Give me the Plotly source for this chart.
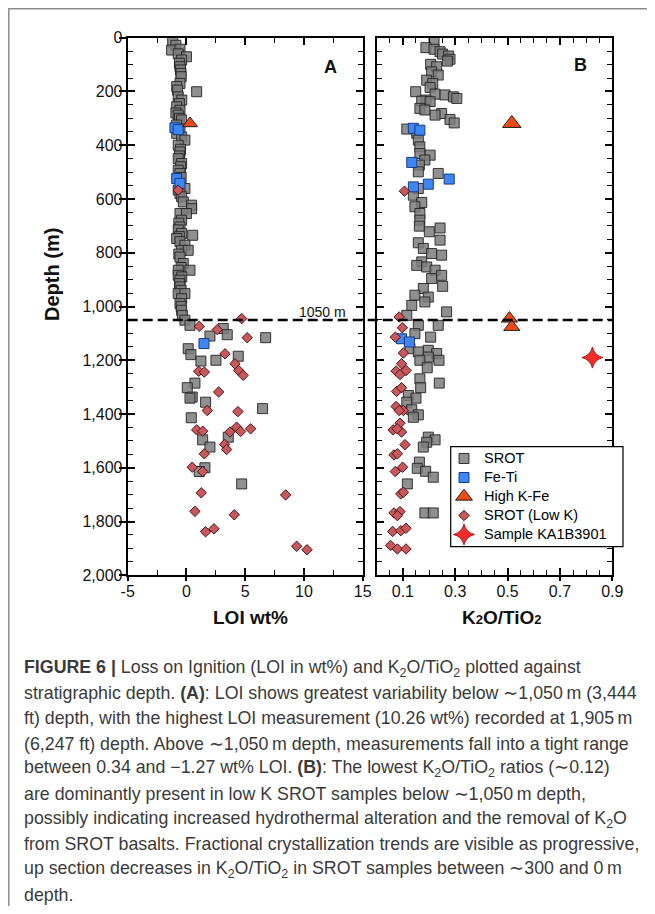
import plotly.graph_objects as go

# ---- Panel A: LOI wt% vs depth ----
a_srot_depth = [15, 28, 46, 43, 60, 71, 83, 95, 108, 120, 133, 145, 170, 182, 195, 201, 220, 232, 245,
                257, 270, 280, 288, 300, 306, 325, 340, 356, 369, 381, 400, 415, 425, 440, 450, 468,
                480, 493, 505, 520, 561, 567, 580, 592, 611, 623, 636, 654, 654, 679, 690, 704, 715,
                728, 735, 740, 747, 759, 772, 791, 791, 805, 816, 840, 855, 865, 865, 884, 890, 902,
                915, 927, 940, 952, 952, 971, 989, 1000, 1014, 1033,
                1051, 1070, 1082, 1105, 1110, 1116, 1157, 1179, 1185, 1203, 1200, 1285, 1302, 1337,
                1341, 1356, 1380, 1414, 1496, 1486, 1523, 1600, 1614, 1660]
a_srot_loi = [-1.17, -0.9, -1.26, -0.55, -0.7, 0.0, -0.41, -0.6, -0.55, -0.5, -0.47, -0.45, -0.55, -0.83,
              -0.75, 0.87, -0.7, -0.4, -0.6, -0.83, -0.55, -0.9, -0.7, -0.6, -0.41, -0.83, -0.55, -0.83,
              -0.41, -0.13, -0.7, -0.5, -0.55, -0.6, -0.7, -0.41, -0.5, -0.7, -0.55, -0.45, -0.13, -0.7,
              -0.55, -0.41, -0.27, 0.44, 0.44, -0.55, 0.0, -0.41, -0.65, -0.55, -0.7, -0.41, 0.53, -0.6,
              -0.83, -0.55, -0.13, -0.41, 0.15, -0.65, -0.55, -0.27, -0.45, -0.7, 0.3, -0.7, -0.4, -0.55,
              -0.6, -0.55, -0.45, -0.7, -0.13, -0.41, -0.55, -0.45, -0.41, -0.35,
              -0.13, 0.3, 3.13, 3.47, 2.0, 6.74, 0.15, 0.38, 4.41, 1.23, 2.51, 0.72, 0.07, 0.49,
              0.3, 1.63, 6.48, 0.41, 1.38, 3.56, 2.0, 1.57, 1.09, 4.7]
a_feti_depth = [335, 342, 524, 542, 1138]
a_feti_loi = [-0.98, -0.7, -0.83, -0.55, 1.49]
a_hkfe_depth = [319]
a_hkfe_loi = [0.3]
a_lowk_depth = [567, 1045, 1074, 1086, 1116, 1176, 1213, 1241, 1244, 1238, 1256, 1318, 1387, 1391,
                1459, 1464, 1455, 1449, 1465, 1467, 1513, 1532, 1548, 1598, 1614, 1693, 1701, 1762,
                1775, 1838, 1827, 1892, 1905]
a_lowk_loi = [-0.7, 4.7, 1.09, 2.62, 5.17, 3.28, 4.13, 1.04, 1.52, 4.44, 4.83, 2.74, 1.77, 4.38,
              0.87, 1.38, 5.46, 4.27, 4.61, 3.7, 3.25, 3.42, 1.52, 0.49, 1.38, 1.26, 8.44, 0.72,
              4.07, 1.63, 2.34, 9.38, 10.26]

# ---- Panel B: K2O/TiO2 vs depth ----
b_srot_depth = [15, 37, 43, 52, 61, 68, 80, 87, 99, 108, 127, 139, 158, 170, 185, 201, 210, 213, 220,
                226, 232, 236, 238, 263, 269, 282, 288, 304, 317, 340, 356, 381, 406, 431, 437, 455,
                474, 499, 505, 561, 586, 613, 629, 654, 679, 701, 708, 722, 753, 763, 784, 803, 809,
                834, 847, 853, 865, 884, 896, 925, 933, 958, 965, 983, 996, 1020, 1033,
                1070, 1070, 1101, 1114, 1157, 1163, 1169, 1175, 1188, 1200, 1200, 1228, 1269, 1285,
                1302, 1331, 1341, 1356, 1384, 1403, 1412, 1486, 1496, 1505, 1523, 1579, 1602, 1613,
                1635, 1660, 1768, 1768]
b_srot_k = [0.219, 0.188, 0.219, 0.242, 0.252, 0.274, 0.28, 0.27, 0.206, 0.229, 0.21, 0.235, 0.191,
            0.214, 0.204, 0.149, 0.223, 0.261, 0.293, 0.306, 0.188, 0.172, 0.204, 0.165, 0.184, 0.248,
            0.223, 0.28, 0.296, 0.115, 0.153, 0.159, 0.165, 0.165, 0.204, 0.184, 0.163, 0.159, 0.235,
            0.159, 0.14, 0.172, 0.146, 0.165, 0.165, 0.163, 0.242, 0.201, 0.242, 0.159, 0.178, 0.21,
            0.248, 0.172, 0.153, 0.191, 0.223, 0.248, 0.21, 0.252, 0.178, 0.146, 0.197, 0.184, 0.134,
            0.267, 0.115,
            0.159, 0.235, 0.146, 0.206, 0.127, 0.197, 0.159, 0.229, 0.197, 0.165, 0.238, 0.193, 0.165,
            0.239, 0.168, 0.121, 0.15, 0.115, 0.134, 0.159, 0.14, 0.197, 0.223, 0.191, 0.178, 0.163,
            0.155, 0.187, 0.216, 0.117, 0.184, 0.216]
b_feti_depth = [337, 344, 464, 526, 545, 555, 1120, 1132]
b_feti_k = [0.14, 0.165, 0.134, 0.277, 0.197, 0.14, 0.095, 0.125]
b_hkfe_depth = [319, 1045, 1076]
b_hkfe_k = [0.516, 0.507, 0.516]
b_lowk_depth = [571, 1039, 1079, 1114, 1173, 1213, 1240, 1253, 1238, 1316, 1302, 1372, 1387, 1387,
                1459, 1434, 1467, 1455, 1514, 1552, 1548, 1598, 1614, 1697, 1691, 1768, 1763, 1778,
                1837, 1834, 1825, 1889, 1902, 1902]
b_lowk_k = [0.106, 0.086, 0.098, 0.071, 0.102, 0.095, 0.074, 0.089, 0.112, 0.076, 0.095, 0.074,
            0.102, 0.086, 0.063, 0.089, 0.095, 0.078, 0.108, 0.066, 0.079, 0.099, 0.071, 0.092,
            0.102, 0.066, 0.089, 0.079, 0.061, 0.092, 0.112, 0.053, 0.079, 0.112]
b_star_depth = [1190]
b_star_k = [0.824]

a_ticks = [-5, 0, 5, 10, 15]
a_ticktext = ["-5", "0", "5", "10", "15"]
b_ticks = [0.1, 0.3, 0.5, 0.7, 0.9]
b_ticktext = ["0.1", "0.3", "0.5", "0.7", "0.9"]
boundary_depth = 1050

caption_lines = [
    "<b>FIGURE 6 |</b> Loss on Ignition (LOI in wt%) and K<sub>2</sub>O/TiO<sub>2</sub> plotted against",
    "stratigraphic depth. <b>(A)</b>: LOI shows greatest variability below \u223c1,050\u2009m (3,444",
    "ft) depth, with the highest LOI measurement (10.26 wt%) recorded at 1,905\u2009m",
    "(6,247 ft) depth. Above \u223c1,050\u2009m depth, measurements fall into a tight range",
    "between 0.34 and \u22121.27 wt% LOI. <b>(B)</b>: The lowest K<sub>2</sub>O/TiO<sub>2</sub> ratios (\u223c0.12)",
    "are dominantly present in low K SROT samples below \u223c1,050\u2009m depth,",
    "possibly indicating increased hydrothermal alteration and the removal of K<sub>2</sub>O",
    "from SROT basalts. Fractional crystallization trends are visible as progressive,",
    "up section decreases in K<sub>2</sub>O/TiO<sub>2</sub> in SROT samples between \u223c300 and 0\u2009m",
    "depth.",
]

# the page body keeps its default 8px margin, so the figure sits 8px in from the window corner
OFF = 8
W, H = 655 - OFF, 914 - 2 * OFF
FONT = "Liberation Sans, Arial, sans-serif"


def px(x):
    # window pixel -> paper fraction
    return (x - OFF) / W


def py(y):
    return 1 - (y - OFF) / H


srot_style = dict(symbol="square", size=10, color="rgba(125,125,125,0.85)", opacity=1,
                  line=dict(color="rgba(35,35,35,0.9)", width=1))
feti_style = dict(symbol="square", size=10, color="#3f86f5", opacity=1, line=dict(color="#1a3a80", width=1))
hkfe_style = dict(symbol="triangle-up", size=15, color="#f24a14", opacity=1, line=dict(color="#222", width=1))
lowk_style = dict(symbol="diamond", size=8, color="#c9585c", opacity=1, line=dict(color="#4a1518", width=1))
star_style = dict(symbol="star-diamond", size=15, color="#f52a2a", opacity=1, line=dict(color="#8a1010", width=0.8))

fig = go.Figure()

# panel A
fig.add_trace(go.Scatter(x=a_srot_loi, y=a_srot_depth, mode="markers", marker=srot_style,
                         showlegend=False, xaxis="x", yaxis="y"))
fig.add_trace(go.Scatter(x=a_feti_loi, y=a_feti_depth, mode="markers", marker=feti_style,
                         showlegend=False, xaxis="x", yaxis="y"))
fig.add_trace(go.Scatter(x=a_hkfe_loi, y=a_hkfe_depth, mode="markers", marker={**hkfe_style, "size": 13},
                         showlegend=False, xaxis="x", yaxis="y"))
fig.add_trace(go.Scatter(x=a_lowk_loi, y=a_lowk_depth, mode="markers", marker=lowk_style,
                         showlegend=False, xaxis="x", yaxis="y"))

# panel B (these carry the legend)
legend_names = ["SROT", "Fe-Ti", "High K-Fe", "SROT (Low K)", "Sample KA1B3901"]
lab = [f"<span style='font-size:14.5px'>{n}</span>" for n in legend_names]
fig.add_trace(go.Scatter(x=b_srot_k, y=b_srot_depth, mode="markers", marker=srot_style,
                         name=lab[0], xaxis="x2", yaxis="y2"))
fig.add_trace(go.Scatter(x=b_feti_k, y=b_feti_depth, mode="markers", marker=feti_style,
                         name=lab[1], xaxis="x2", yaxis="y2"))
fig.add_trace(go.Scatter(x=b_hkfe_k, y=b_hkfe_depth, mode="markers",
                         marker={**hkfe_style, "size": [16, 14, 14]},
                         name=lab[2], xaxis="x2", yaxis="y2"))
fig.add_trace(go.Scatter(x=b_lowk_k, y=b_lowk_depth, mode="markers", marker=lowk_style,
                         name=lab[3], xaxis="x2", yaxis="y2"))
fig.add_trace(go.Scatter(x=b_star_k, y=b_star_depth, mode="markers", marker=star_style,
                         name=lab[4], xaxis="x2", yaxis="y2"))

# empty traces so the outward tick overlays get drawn
fig.add_trace(go.Scatter(x=[], y=[], xaxis="x3", yaxis="y3", showlegend=False))
fig.add_trace(go.Scatter(x=[], y=[], xaxis="x4", yaxis="y2", showlegend=False))

dom_a = [px(127.7), px(362.7)]
dom_b = [px(376.7), px(612.3)]
dom_y = [py(575.3), py(37.7)]

axis_common = dict(showgrid=False, zeroline=False, showline=True, linecolor="black", linewidth=2,
                   mirror="ticks", ticks="inside", ticklen=7, tickwidth=1.5, tickcolor="black",
                   tickfont=dict(family=FONT, size=16, color="#111"))

fig.update_layout(
    width=W, height=H, autosize=False,
    margin=dict(l=0, r=0, t=0, b=0, pad=0, autoexpand=False),
    paper_bgcolor="white", plot_bgcolor="white",
    xaxis=dict(domain=dom_a, range=[-5, 15], anchor="y", tickmode="array", tickvals=a_ticks,
               ticktext=a_ticktext,
               minor=dict(tickmode="linear", tick0=-5, dtick=2.5, ticks="inside", ticklen=5,
                          tickwidth=1.3, tickcolor="black"),
               **axis_common),
    yaxis=dict(domain=dom_y, range=[2000, 0], anchor="x", dtick=200, tickformat=",d",
               minor=dict(dtick=50, ticks="inside", ticklen=5, tickwidth=1.3, tickcolor="black"),
               **axis_common),
    xaxis2=dict(domain=dom_b, range=[0, 0.9], anchor="y2", tickmode="array", tickvals=b_ticks,
                ticktext=b_ticktext,
                minor=dict(tickmode="linear", tick0=0, dtick=0.05, ticks="inside", ticklen=5,
                           tickwidth=1.3, tickcolor="black"),
                **axis_common),
    yaxis2=dict(domain=dom_y, range=[2000, 0], anchor="x2", dtick=200, showticklabels=False,
                minor=dict(dtick=50, ticks="inside", ticklen=5, tickwidth=1.3, tickcolor="black"),
                **axis_common),
    xaxis3=dict(overlaying="x", anchor="y", range=[-5, 15], side="bottom", tickmode="array",
                tickvals=a_ticks, ticks="outside", ticklen=5, tickwidth=1.5, tickcolor="black",
                showticklabels=False, showgrid=False, zeroline=False, showline=False),
    yaxis3=dict(overlaying="y", anchor="x3", range=[2000, 0], side="left", dtick=200,
                ticks="outside", ticklen=8, tickwidth=1.5, tickcolor="black",
                showticklabels=False, showgrid=False, zeroline=False, showline=False),
    xaxis4=dict(overlaying="x2", anchor="y2", range=[0, 0.9], side="bottom", tickmode="array",
                tickvals=b_ticks, ticks="outside", ticklen=5, tickwidth=1.5, tickcolor="black",
                showticklabels=False, showgrid=False, zeroline=False, showline=False),
    legend=dict(x=px(444), y=py(444), xanchor="left", yanchor="top", bgcolor="rgba(0,0,0,0)",
                borderwidth=0, tracegroupgap=0, itemwidth=30,
                font=dict(family=FONT, size=12, color="black")),
    font=dict(family=FONT, color="black"),
)

# legend frame drawn as a shape so the box matches the reference extent
fig.add_shape(type="rect", xref="paper", yref="paper", x0=px(450.7), x1=px(623),
              y0=py(546.7), y1=py(446.7), fillcolor="white", layer="above",
              line=dict(color="black", width=1.2))

# dashed 1050 m line across both panels
fig.add_shape(type="line", xref="paper", yref="y", x0=dom_a[0], x1=dom_b[1],
              y0=boundary_depth, y1=boundary_depth,
              line=dict(color="black", width=2.5, dash="10px,5px"))

# outer figure border (only top and left visible)
fig.add_shape(type="rect", xref="paper", yref="paper", x0=px(8.8), x1=1.05, y0=-0.05, y1=py(8.8),
              line=dict(color="#8a8a8a", width=1.5))

ann = [
    dict(x=px(348), y=py(312), text="1050 m", xanchor="right", yanchor="middle",
         font=dict(size=14, family=FONT, color="#111")),
    dict(x=px(330), y=py(67), text="<b>A</b>", xanchor="center", yanchor="middle",
         font=dict(size=18, family=FONT, color="#111")),
    dict(x=px(580), y=py(65), text="<b>B</b>", xanchor="center", yanchor="middle",
         font=dict(size=18, family=FONT, color="#111")),
    dict(x=px(52), y=py(275), text="<b>Depth (m)</b>", textangle=-90, xanchor="center",
         yanchor="middle", font=dict(size=20, family=FONT, color="#111")),
    dict(x=px(251), y=py(617), text="<b>LOI wt%</b>", xanchor="center", yanchor="middle",
         font=dict(size=19, family=FONT, color="#111")),
    dict(x=px(502), y=py(617),
         text="<b>K<span style='font-size:13px'>2</span>O/TiO<span style='font-size:13px'>2</span></b>",
         xanchor="center", yanchor="middle", font=dict(size=19, family=FONT, color="#111")),
]
for i, line in enumerate(caption_lines):
    ann.append(dict(x=px(22), y=py(668 + 25.2 * i), text=line, xanchor="left", yanchor="middle",
                    align="left", font=dict(size=17.8, family=FONT, color="#3a3a3a")))
for a in ann:
    fig.add_annotation(xref="paper", yref="paper", showarrow=False, **a)

fig.write_html("out.html")
